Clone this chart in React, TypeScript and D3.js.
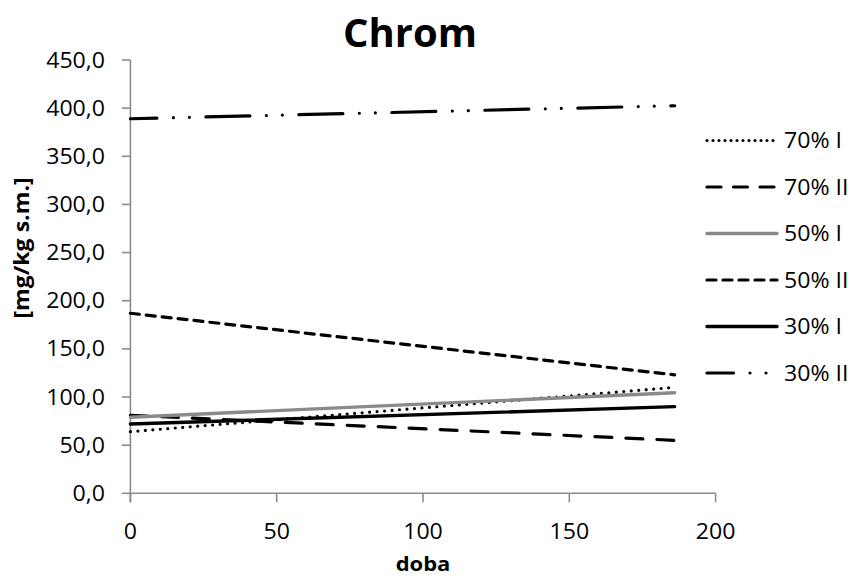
import React from "react";
import * as d3 from "d3";

const title = "Chrom";
const xTitle = "doba";
const yTitle = "[mg/kg s.m.]";
const xTicks = [0, 50, 100, 150, 200];
const yTicks = [0, 50, 100, 150, 200, 250, 300, 350, 400, 450];
const days = [0, 186];
const seriesNames = ["70% I", "70% II", "50% I", "50% II", "30% I", "30% II"];
const s70I = [64, 110];
const s70II = [81, 55];
const s50I = [79, 104.5];
const s50II = [187, 123];
const s30I = [72, 90];
const s30II = [389, 402.5];
const seriesValues = [s70I, s70II, s50I, s50II, s30I, s30II];

type Style = { color: string; dash?: string; offset?: number; width: number };
const styles: Style[] = [
  { color: "#000", dash: "0 7.5", width: 3.2 },
  { color: "#000", dash: "17 14", width: 3.2 },
  { color: "#8a8a8a", width: 3.4 },
  { color: "#000", dash: "9 7", width: 3.2 },
  { color: "#000", width: 3.4 },
  { color: "#000", dash: "44 16.5 0 16 0 16.5", offset: 17.5, width: 3.2 },
];

const FONT = "'Open Sans', 'Liberation Sans', sans-serif";
const SX = 1.1;

export default function App() {
  const W = 851;
  const H = 578;
  const x = d3.scaleLinear().domain([0, 200]).range([130.4, 715.6]);
  const y = d3.scaleLinear().domain([0, 450]).range([493.3, 60]);
  const line = d3
    .line<[number, number]>()
    .x((d) => x(d[0]))
    .y((d) => y(d[1]));
  const axisColor = "#8c8c8c";
  const legendX0 = 707;
  const legendX1 = 777;
  const legendY0 = 140.5;
  const legendStep = 46.5;

  return (
    <svg
      width={W}
      height={H}
      style={{ position: "absolute", left: 0, top: 0, background: "#fff" }}
      fontFamily={FONT}
    >
      <rect x={0} y={0} width={W} height={H} fill="#fff" />
      <text x={410} y={46.5} textAnchor="middle" fontSize={40} fontWeight="bold" fill="#000">
        {title}
      </text>

      {/* y axis */}
      <line x1={x(0)} x2={x(0)} y1={y(450)} y2={y(0) + 9} stroke={axisColor} strokeWidth={1.6} />
      {yTicks.map((t) => (
        <g key={"y" + t}>
          <line x1={x(0) - 8.5} x2={x(0)} y1={y(t)} y2={y(t)} stroke={axisColor} strokeWidth={1.6} />
          <text
            transform={`translate(105,${y(t)}) scale(${SX},1)`}
            dy="0.36em"
            textAnchor="end"
            fontSize={21}
            fill="#000"
          >
            {d3.format(".1f")(t).replace(".", ",")}
          </text>
        </g>
      ))}

      {/* x axis */}
      <line x1={x(0)} x2={x(200)} y1={y(0)} y2={y(0)} stroke={axisColor} strokeWidth={1.6} />
      {xTicks.map((t) => (
        <g key={"x" + t}>
          <line x1={x(t)} x2={x(t)} y1={y(0)} y2={y(0) + 9} stroke={axisColor} strokeWidth={1.6} />
          <text
            transform={`translate(${x(t)},531) scale(${SX},1)`}
            dy="0.36em"
            textAnchor="middle"
            fontSize={21}
            fill="#000"
          >
            {t}
          </text>
        </g>
      ))}

      <text
        transform={`translate(423,564) scale(${SX},1)`}
        dy="0.36em"
        textAnchor="middle"
        fontSize={20}
        fontWeight="bold"
        fill="#000"
      >
        {xTitle}
      </text>
      <text
        transform={`translate(21,248) rotate(-90) scale(${SX},1)`}
        dy="0.36em"
        textAnchor="middle"
        fontSize={21}
        fontWeight="bold"
        fill="#000"
      >
        {yTitle}
      </text>

      {/* series */}
      {seriesValues.map((vals, i) => {
        const st = styles[i];
        const pts = days.map((d, j) => [d, vals[j]] as [number, number]);
        return (
          <path
            key={"s" + i}
            d={line(pts) || ""}
            fill="none"
            stroke={st.color}
            strokeWidth={st.width}
            strokeDasharray={st.dash}
            strokeDashoffset={st.offset}
            strokeLinecap="round"
          />
        );
      })}

      {/* legend */}
      {seriesNames.map((name, i) => {
        const st = styles[i];
        const ly = legendY0 + i * legendStep;
        return (
          <g key={"l" + i}>
            <line
              x1={legendX0}
              x2={legendX1}
              y1={ly}
              y2={ly}
              stroke={st.color}
              strokeWidth={st.width}
              strokeDasharray={st.dash === "0 7.5" ? "0 6" : st.dash === "17 14" ? "14 12.5" : st.dash}
              strokeDashoffset={st.offset}
              strokeLinecap="round"
            />
            <text
              transform={`translate(784,${ly}) scale(${SX},1)`}
              dy="0.36em"
              fontSize={21}
              fill="#000"
            >
              {name}
            </text>
          </g>
        );
      })}
    </svg>
  );
}
